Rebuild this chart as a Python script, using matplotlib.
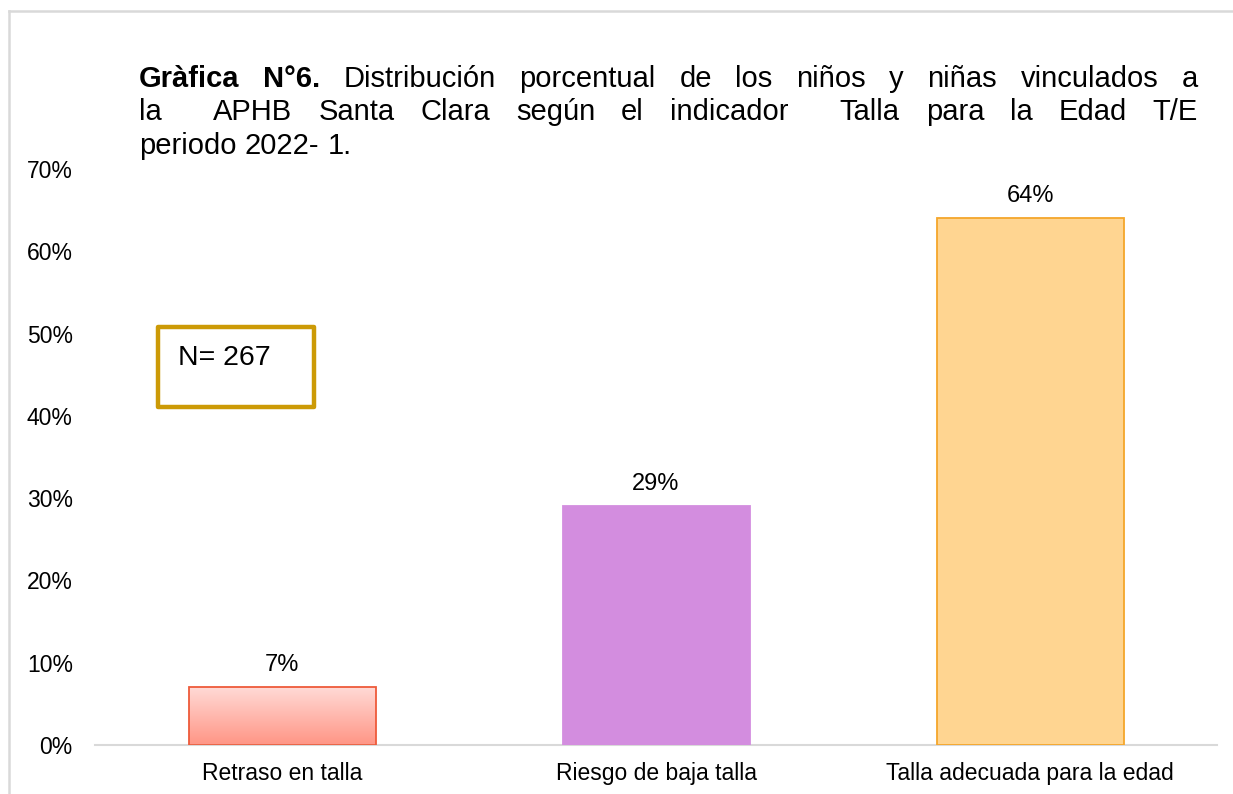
import matplotlib
matplotlib.use("Agg")
import matplotlib.pyplot as plt
import numpy as np
from matplotlib.patches import Rectangle
from matplotlib.lines import Line2D
from matplotlib.colors import LinearSegmentedColormap

categories = ["Retraso en talla", "Riesgo de baja talla", "Talla adecuada para la edad"]
values = [0.07, 0.29, 0.64]
labels = ["7%", "29%", "64%"]
yticks = [0, 0.1, 0.2, 0.3, 0.4, 0.5, 0.6, 0.7]
yticklabels = ["0%", "10%", "20%", "30%", "40%", "50%", "60%", "70%"]
title_bold = "Gràfica N°6."
title_lines = [
    "Distribución porcentual de los niños y niñas vinculados a",
    "la  APHB Santa Clara según el indicador  Talla para la Edad T/E",
    "periodo 2022- 1.",
]
n_text = "N= 267"

plt.rcParams['font.family'] = ['Liberation Sans', 'DejaVu Sans']

W, H = 1233, 794
fig = plt.figure(figsize=(W / 100, H / 100), dpi=100)
fig.patch.set_facecolor("white")

def fx(px):
    return px / W

def fy(py):
    return 1 - py / H

LS = 16.5
ax = fig.add_axes([fx(95), fy(745), fx(1217) - fx(95), fy(169) - fy(745)])
x = np.arange(len(categories))
face = ["none", "#D38DDF", "#FFD591"]
edge = ["#EE5A3A", "#D38DDF", "#F5A62A"]
bars = ax.bar(x, values, width=0.5, color=face, edgecolor=edge, linewidth=1.3, zorder=3)

# gradient fill for first bar
b = bars[0]
cmap = LinearSegmentedColormap.from_list("g", ["#FF9585", "#FFDAD6"])
grad = np.linspace(0, 1, 256).reshape(-1, 1)
ax.imshow(grad, cmap=cmap, origin="lower", aspect="auto",
          extent=[b.get_x(), b.get_x() + b.get_width(), 0, b.get_height()], zorder=2)

ax.set_xlim(-0.5, len(categories) - 0.5)
ax.set_ylim(0, 0.7)
ax.set_yticks(yticks)
ax.set_yticklabels(yticklabels)
ax.set_xticks(x)
ax.set_xticklabels(categories)
ax.tick_params(axis="both", length=0, labelsize=LS, colors="#000000")
ax.tick_params(axis="y", pad=16)
ax.tick_params(axis="x", pad=12)
for s in ["top", "right", "left"]:
    ax.spines[s].set_visible(False)
ax.spines["bottom"].set_color("#D9D9D9")
ax.spines["bottom"].set_linewidth(1.5)

for rect, lab in zip(bars, labels):
    ax.annotate(lab, (rect.get_x() + rect.get_width() / 2, rect.get_height()),
                xytext=(0, 8), textcoords="offset points", ha="center", va="bottom",
                fontsize=17)

# N box
fig.add_artist(Rectangle((fx(158), fy(407)), fx(314) - fx(158), fy(327) - fy(407),
                         transform=fig.transFigure, fill=False, edgecolor="#CC9A06",
                         linewidth=3.2, joinstyle="round"))
fig.text(fx(178), fy(358), n_text, fontsize=20.5, va="center", ha="left")

# border
fig.add_artist(Line2D([fx(9), fx(9)], [fy(11), 0], color="#D9D9D9", linewidth=1.8))
fig.add_artist(Line2D([fx(9), fx(1232)], [fy(11), fy(11)], color="#D9D9D9", linewidth=1.8))

# Title with justification
fig.canvas.draw()
renderer = fig.canvas.get_renderer()
tsize = 21
left_px, right_px = 139, 1198
line_y = [79, 112, 146]

def measure(s, weight="normal"):
    t = fig.text(0, 0, s, fontsize=tsize, fontweight=weight)
    bb = t.get_window_extent(renderer)
    t.remove()
    return bb.width

space_nat = measure("a a") - measure("aa")

def place_justified(tokens, ypx, justify=True):
    # tokens: list of (text, weight, n_spaces_after)
    widths = [measure(w, wt) for w, wt, _ in tokens]
    total = sum(widths)
    nsp = sum(n for _, _, n in tokens[:-1])
    if justify and nsp > 0:
        gap = (right_px - left_px - total) / nsp
    else:
        gap = space_nat
    xp = left_px
    for (w, wt, n), wd in zip(tokens, widths):
        fig.text(fx(xp), fy(ypx), w, fontsize=tsize, fontweight=wt, va="center", ha="left")
        xp += wd + gap * n

def tokenize(s, weight):
    out = []
    for part in s.split(" "):
        if part == "":
            w, wt, n = out[-1]
            out[-1] = (w, wt, n + 1)
        else:
            out.append((part, weight, 1))
    return out

t1 = tokenize(title_bold, "bold") + tokenize(title_lines[0], "normal")
place_justified(t1, line_y[0])
place_justified(tokenize(title_lines[1], "normal"), line_y[1])
place_justified(tokenize(title_lines[2], "normal"), line_y[2], justify=False)

fig.savefig("out.png", dpi=100, facecolor="white")
